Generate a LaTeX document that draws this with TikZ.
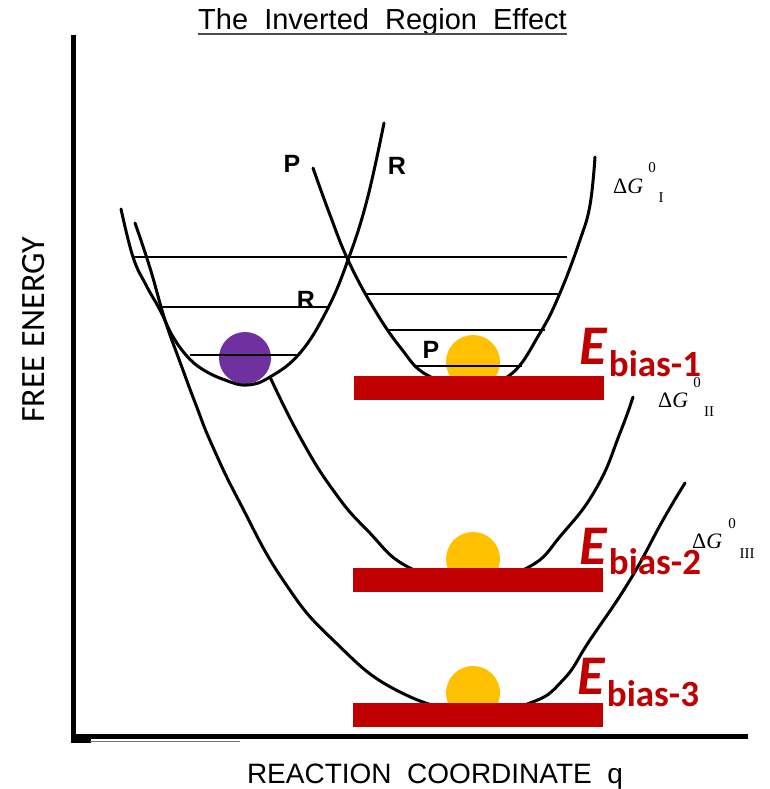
\documentclass[tikz,border=0pt]{standalone}
\usepackage{fontspec}
\setmainfont{Liberation Sans}
\newfontfamily\carlito{Carlito}
\newfontfamily\tserif{Liberation Serif}
\definecolor{biasred}{HTML}{C00000}
\definecolor{purp}{HTML}{7030A0}
\definecolor{gold}{HTML}{FFC000}
\begin{document}
\begin{tikzpicture}[x=1pt,y=-1pt,
  curve/.style={line width=3pt, line cap=round, line join=round},
  level/.style={line width=2pt},
  axis/.style={line width=4.5pt},
  bar/.style={fill=biasred, draw=none},
  ball/.style={circle, fill=gold, draw=none, minimum size=54pt, inner sep=0},
  lbl/.style={inner sep=0, anchor=base},
  pr/.style={inner sep=0, font=\bfseries\fontsize{25}{27}\selectfont},
  dg/.style={inner sep=0, anchor=base west, font=\tserif\fontsize{22}{24}\selectfont},
  dgsmall/.style={inner sep=0, font=\tserif\fontsize{15}{16}\selectfont},
  ebig/.style={inner sep=0, anchor=base west, text=biasred, font=\carlito\bfseries\itshape\fontsize{56}{60}\selectfont},
  esub/.style={inner sep=0, anchor=base west, text=biasred, font=\carlito\bfseries\fontsize{37}{39}\selectfont}]
\useasboundingbox (0,0) rectangle (769,789);
% titles
\node[lbl, font=\fontsize{29}{34}\selectfont] (title) at (382.5,30) {The\ \ Inverted\ \ Region\ \ Effect};
\draw[line width=1.6pt, black!70] ([yshift=-4pt]title.base west) -- ([yshift=-4pt]title.base east);
\node[lbl, font=\fontsize{28}{32}\selectfont] (xlab) at (435,783) {REACTION\ \ COORDINATE\ \ q};
\node[inner sep=0, rotate=90, font=\carlito\fontsize{34}{38}\selectfont] (ylab) at (34,330) {FREE ENERGY};
% axes
\coordinate (ytop) at (73.5,35);
\coordinate (orig) at (73.5,736.5);
\coordinate (xend) at (748,736.5);
\draw[axis] (ytop) -- ([yshift=-2.25pt]orig) ;
\draw[axis] ([xshift=-2.25pt]orig) -- (xend);
\fill (71,736) rectangle (91,743);
\draw[line width=1.4pt, black!55] (90,741.5) -- (240,741.5);
% balls
\node[ball, fill=purp, minimum size=52pt] (pball) at (245,358) {};
\node[ball] (y1) at (473,362) {};
\node[ball] (y2) at (473,559) {};
\node[ball] (y3) at (473,693) {};
% energy levels
\draw[level] (133,257) -- (567,257);
\draw[level] (160,307) -- (328,307);
\draw[level] (190,355) -- (297,355);
\draw[level] (365,294) -- (560,294);
\draw[level] (387,330) -- (545,330);
\draw[level] (413,366) -- (522,366);
% reactant parabola R
\draw[curve] plot[smooth, tension=0.7] coordinates {(121,209) (133,257) (146,285) (160,310) (172,335) (186,355) (202,369) (225,380) (247,385) (270,377) (300,353) (327,310) (348,260) (367,200) (384,123)};
% product parabola I
\draw[curve] plot[smooth, tension=0.7] coordinates {(313,168) (330,215) (348,260) (373,307) (400,347) (427,375) (470,386) (510,375) (540,333) (560,293) (580,240) (590,205) (595,157)};
% parabola II
\draw[curve] plot[smooth, tension=0.8] coordinates {(270,377) (300,437) (333,490) (367,530) (410,568) (470,582) (527,568) (563,533) (597,487) (620,433) (633,397)};
% parabola III
\draw[curve] plot[smooth, tension=0.8] coordinates {(135,223) (150,268) (165,320) (180,362) (196,405) (212,445) (240,503) (283,580) (333,640) (400,692) (477,712) (530,703) (563,680) (590,640) (630,580) (663,520) (685,483)};
% P / R labels
\node[pr] (p1) at (292,164) {P};
\node[pr] (r1) at (397,166) {R};
\node[pr] (r2) at (306,300) {R};
\node[pr] (p2) at (431,350) {P};
% bars
\fill[bar] (354,376) rectangle (604,400);
\fill[bar] (353,568) rectangle (603,592);
\fill[bar] (353,703) rectangle (603,727);
% Delta G labels
\node[dg] (dg1) at (613,193) {Δ\textit{G}};
\node[dgsmall, anchor=base] (dg1s) at (652,172) {0};
\node[dgsmall, anchor=base] (dg1i) at (661,202) {I};
\node[dg] (dg2) at (658,407) {Δ\textit{G}};
\node[dgsmall, anchor=base] (dg2s) at (697,387) {0};
\node[dgsmall, anchor=base] (dg2i) at (709,416) {II};
\node[dg] (dg3) at (692,548) {Δ\textit{G}};
\node[dgsmall, anchor=base] (dg3s) at (732,528) {0};
\node[dgsmall, anchor=base] (dg3i) at (747,558) {III};
% E bias labels
\node[ebig] (e1) at (579,364) {E};
\node[esub, anchor=base west] (e1s) at ([shift={(2pt,-12pt)}]e1.base east) {bias-1};
\node[ebig] (e2) at (579,564) {E};
\node[esub, anchor=base west] (e2s) at ([shift={(2pt,-10pt)}]e2.base east) {bias-2};
\node[ebig] (e3) at (577,694) {E};
\node[esub, anchor=base west] (e3s) at ([shift={(2pt,-12pt)}]e3.base east) {bias-3};
\end{tikzpicture}
\end{document}
